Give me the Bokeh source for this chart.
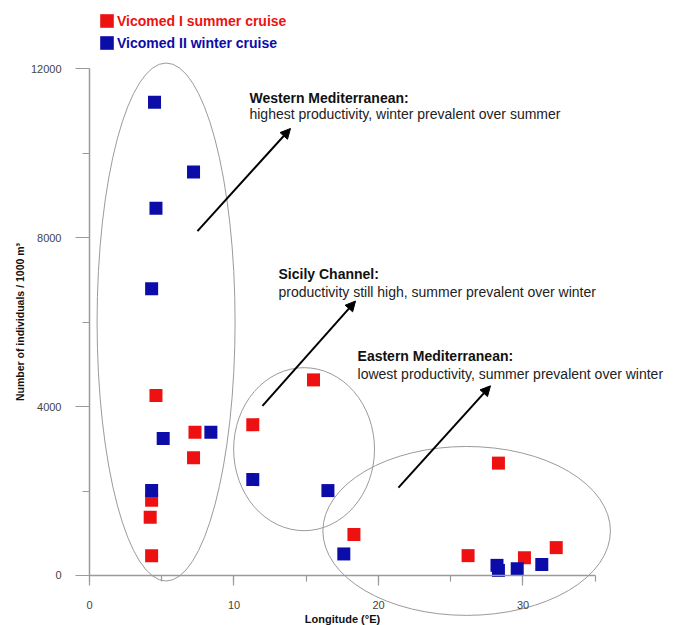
from bokeh.plotting import figure
from bokeh.models import (Range1d, SingleIntervalTicker, Legend, LegendItem,
                          Arrow, NormalHead, ColumnDataSource)
from bokeh.core.properties import value
from bokeh.embed import file_html
from bokeh.resources import INLINE

FONT = "Liberation Sans"

# ---- data (longitude °E, individuals / 1000 m3) ----
summer_lon = [4.6, 7.3, 7.2, 4.3, 4.2, 4.3, 15.5, 11.3, 18.3, 26.2, 28.3, 30.1, 32.3]
summer_val = [4260, 3390, 2790, 1780, 1380, 470, 4630, 3570, 970, 470, 2660, 420, 660]
winter_lon = [4.5, 7.2, 4.6, 4.3, 5.1, 8.4, 4.3, 11.3, 16.5, 17.6, 28.2, 28.3, 29.6, 31.3]
winter_val = [11200, 9550, 8690, 6790, 3240, 3390, 2010, 2270, 2010, 510, 240, 120, 160, 260]

# region ellipses
ell_x = [5.3, 14.85, 26.1]
ell_y = [6000, 2990, 1055]
ell_w = [9.55, 9.75, 19.9]
ell_h = [12260, 3860, 4000]

# annotations
note_titles = ["Western Mediterranean:", "Sicily Channel:", "Eastern Mediterranean:"]
note_texts = ["highest productivity, winter prevalent over summer",
              "productivity still high, summer prevalent over winter",
              "lowest productivity, summer prevalent over winter"]
note_x = [11.07, 13.08, 18.55]
title_y = [11314, 7148, 5184]
text_y = [10912, 6722, 4781]
arrow_x0 = [7.47, 11.97, 21.38]
arrow_y0 = [8150, 4016, 2080]
arrow_x1 = [13.91, 18.41, 27.75]
arrow_y1 = [10580, 6496, 4490]

RED = "#ee1111"
BLUE = "#0c0ca8"
GREY = "#9a9a9a"

p = figure(width=681, height=625, output_backend="svg", toolbar_location=None,
           x_range=Range1d(-6.159, 40.969), y_range=Range1d(-1183.5, 13610),
           min_border=0, min_border_left=0, min_border_right=0,
           min_border_top=0, min_border_bottom=0)
p.outline_line_color = None
p.grid.visible = False
p.background_fill_color = "white"
p.border_fill_color = "white"

# ellipses
p.ellipse(x=ell_x, y=ell_y, width=ell_w, height=ell_h,
          fill_color=None, line_color=GREY, line_width=1)

# arrows
asrc = ColumnDataSource(dict(x0=arrow_x0, y0=arrow_y0, x1=arrow_x1, y1=arrow_y1))
p.add_layout(Arrow(end=NormalHead(size=10, fill_color="black", line_color="black"),
                   x_start="x0", y_start="y0", x_end="x1", y_end="y1",
                   source=asrc, line_width=2, line_color="black"))

# texts
p.text(x=note_x, y=title_y, text=note_titles, text_font=value(FONT),
       text_font_size="14px", text_font_style="bold", text_baseline="middle",
       text_align="left", text_color="#111111")
p.text(x=note_x, y=text_y, text=note_texts, text_font=value(FONT),
       text_font_size="14px", text_baseline="middle",
       text_align="left", text_color="#222222")

# points
r_red = p.rect(x=summer_lon, y=summer_val, width=13, height=13,
               width_units="screen", height_units="screen",
               fill_color=RED, line_color=None)
r_blue = p.rect(x=winter_lon, y=winter_val, width=13, height=13,
                width_units="screen", height_units="screen",
                fill_color=BLUE, line_color=None)

# axes
for ax in (p.xaxis[0], p.yaxis[0]):
    ax.fixed_location = 0
    ax.axis_line_color = GREY
    ax.axis_line_width = 1.5
    ax.major_tick_line_color = GREY
    ax.minor_tick_line_color = GREY
    ax.major_tick_line_width = 1.2
    ax.minor_tick_line_width = 1.2
    ax.major_tick_in = 0
    ax.minor_tick_in = 0
    ax.major_label_text_font = FONT
    ax.major_label_text_font_size = "11px"
    ax.major_label_text_color = "#444444"
    ax.axis_label_text_font = FONT
    ax.axis_label_text_font_style = "bold"
    ax.axis_label_text_color = "#111111"

xa = p.xaxis[0]
xa.ticker = SingleIntervalTicker(interval=10, num_minor_ticks=2)
xa.bounds = (0, 35)
xa.major_tick_out = 10
xa.minor_tick_out = 6
xa.major_label_standoff = 16
xa.axis_label = "Longitude (°E)"
xa.axis_label_text_font_size = "11px"
xa.axis_label_standoff = 0

ya = p.yaxis[0]
ya.ticker = SingleIntervalTicker(interval=4000, num_minor_ticks=2)
ya.bounds = (0, 12000)
ya.major_tick_out = 14
ya.minor_tick_out = 7
ya.major_label_standoff = 14
ya.axis_label = "Number of individuals / 1000 m³"
ya.axis_label_text_font_size = "10.5px"
ya.axis_label_standoff = 2

# legends (one per series, each text in its series colour)
for rend, label, col, loc in ((r_red, "Vicomed I summer cruise", RED, (98, 596)),
                              (r_blue, "Vicomed II winter cruise", BLUE, (98, 574))):
    leg = Legend(items=[LegendItem(label=label, renderers=[rend])], location=loc,
                 padding=0, margin=0, spacing=0, border_line_color=None,
                 background_fill_alpha=0, glyph_width=17, glyph_height=17,
                 label_height=17, label_standoff=2, label_text_font=FONT,
                 label_text_font_size="14px", label_text_font_style="bold",
                 label_text_color=col)
    p.add_layout(leg)

open("out.html", "w").write(file_html(p, INLINE))
